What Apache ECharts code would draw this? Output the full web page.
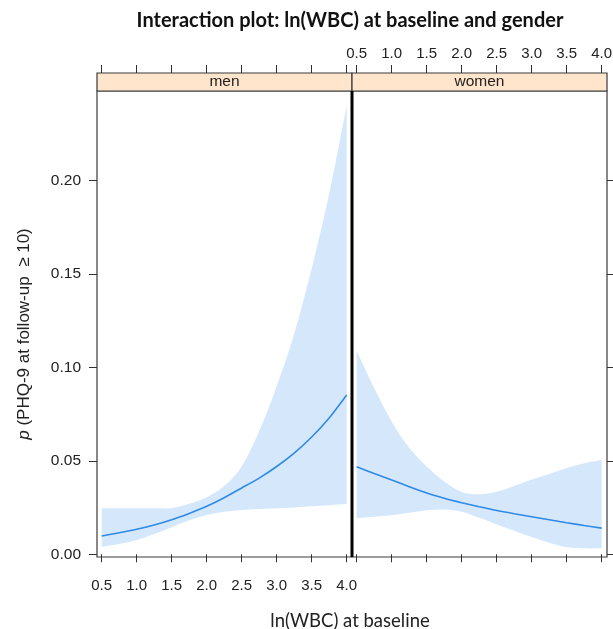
<!DOCTYPE html>
<html><head><meta charset="utf-8">
<script src="https://cdn.jsdelivr.net/npm/echarts@6/dist/echarts.min.js"></script>
<style>html,body{margin:0;padding:0;background:#fff}#c{width:613px;height:629px}</style>
</head><body><div id="c"></div>
<script>
const xValues    = [0.5, 0.75, 1.0, 1.25, 1.5, 1.75, 2.0, 2.25, 2.5, 2.75, 3.0, 3.25, 3.5, 3.75, 4.0];
const menFit     = [0.0098, 0.0115, 0.0134, 0.0157, 0.0185, 0.0219, 0.0257, 0.0303, 0.0355, 0.0408, 0.0470, 0.0542, 0.0628, 0.0730, 0.0853];
const menLower   = [0.0041, 0.0055, 0.0076, 0.0108, 0.0145, 0.0182, 0.0210, 0.0228, 0.0237, 0.0242, 0.0246, 0.0251, 0.0257, 0.0263, 0.0269];
const menUpper   = [0.0246, 0.0246, 0.0246, 0.0246, 0.0247, 0.0270, 0.0305, 0.0365, 0.0470, 0.0660, 0.0900, 0.1180, 0.1530, 0.1930, 0.2400];
const womenFit   = [0.0468, 0.0432, 0.0398, 0.0362, 0.0328, 0.0300, 0.0276, 0.0254, 0.0234, 0.0217, 0.0201, 0.0185, 0.0169, 0.0154, 0.0140];
const womenLower = [0.0193, 0.0201, 0.0209, 0.0222, 0.0236, 0.0240, 0.0228, 0.0195, 0.0160, 0.0126, 0.0092, 0.0062, 0.0038, 0.0032, 0.0032];
const womenUpper = [0.1090, 0.0890, 0.0710, 0.0570, 0.0470, 0.0390, 0.0334, 0.0322, 0.0335, 0.0366, 0.0400, 0.0430, 0.0462, 0.0487, 0.0505];
const xTicks = [0.5, 1.0, 1.5, 2.0, 2.5, 3.0, 3.5, 4.0];
const yTicks = [0.00, 0.05, 0.10, 0.15, 0.20];
const panelNames = ['men', 'women'];
const titleText = 'Interaction plot: ln(WBC) at baseline and gender';
const xAxisTitle = 'ln(WBC) at baseline';
const yAxisTitle = '{i|p} (PHQ-9 at follow-up  \u2265 10)';

const chart = echarts.init(document.getElementById('c'), null, {renderer: 'canvas'});

const AX = '#333';
const FONT = 'Liberation Sans';
const BAND = '#d5e8fb';
const LINE = '#2f8ae6';
const GL = [97, 352];
const GW = 255, GT = 91, GH = 466;
const XMIN = 0.433, XMAX = 4.076, YMIN = -0.00145, YMAX = 0.248;

function pairs(ys) { return xValues.map((x, i) => [x, ys[i]]); }

// Catmull-Rom spline through pixel points -> cubic bezier path commands
function splineCmds(p, start) {
  let d = (start ? 'M' : 'L') + p[0][0] + ',' + p[0][1];
  for (let i = 0; i < p.length - 1; i++) {
    const p0 = p[Math.max(0, i - 1)], p1 = p[i], p2 = p[i + 1], p3 = p[Math.min(p.length - 1, i + 2)];
    const c1 = [p1[0] + (p2[0] - p0[0]) / 6, p1[1] + (p2[1] - p0[1]) / 6];
    const c2 = [p2[0] - (p3[0] - p1[0]) / 6, p2[1] - (p3[1] - p1[1]) / 6];
    d += 'C' + c1[0] + ',' + c1[1] + ' ' + c2[0] + ',' + c2[1] + ' ' + p2[0] + ',' + p2[1];
  }
  return d;
}

function xAxis(grid, pos, labels) {
  return {
    type: 'value', gridIndex: grid, position: pos, min: XMIN, max: XMAX,
    offset: pos === 'top' ? 18 : 0,
    splitLine: {show: false},
    axisLine: {show: false},
    axisTick: {show: true, inside: false, length: 8, customValues: xTicks, lineStyle: {color: AX, width: 1}},
    axisLabel: {show: labels, customValues: xTicks, margin: pos === 'top' ? 12 : 21,
      fontFamily: FONT, fontSize: 15, color: '#222', formatter: v => v.toFixed(1)}
  };
}
function yAxis(grid, pos, opts) {
  return Object.assign({
    type: 'value', gridIndex: grid, position: pos, min: YMIN, max: YMAX,
    splitLine: {show: false},
    axisLine: {show: false},
    axisTick: {show: false},
    axisLabel: {show: false}
  }, opts);
}

const bandSets = [[menLower, menUpper, menFit], [womenLower, womenUpper, womenFit]];
const series = [];
bandSets.forEach(([lo, up, fit], g) => {
  series.push({
    type: 'custom', coordinateSystem: 'cartesian2d', xAxisIndex: g * 2, yAxisIndex: g,
    data: xValues.map((x, i) => [x, lo[i], up[i]]), silent: true, clip: true,
    renderItem: function (params, api) {
      if (params.dataIndex !== 0) return null;
      const upPts = xValues.map((x, i) => api.coord([x, up[i]]));
      const loPts = xValues.map((x, i) => api.coord([x, lo[i]])).reverse();
      const d = splineCmds(upPts, true) + splineCmds(loPts, false) + 'Z';
      return {type: 'path', shape: {pathData: d}, style: {fill: BAND, stroke: null}};
    }
  });
  series.push({
    type: 'line', xAxisIndex: g * 2, yAxisIndex: g, data: pairs(fit),
    symbol: 'none', smooth: 0.25, lineStyle: {color: LINE, width: 1.6}, silent: true, z: 5
  });
});

const option = {
  backgroundColor: '#fff',
  animation: false,
  title: [
    {text: titleText, left: 345, top: 6, textAlign: 'center',
     textStyle: {fontFamily: 'Lato', fontWeight: 'bold', fontSize: 20, color: '#111'}},
    {text: xAxisTitle, left: 345, top: 607, textAlign: 'center',
     textStyle: {fontFamily: 'Lato', fontWeight: 'normal', fontSize: 18.5, color: '#222'}}
  ],
  grid: GL.map(l => ({left: l, top: GT, width: GW, height: GH, show: true,
    borderColor: '#3a3a3a', borderWidth: 1.2, backgroundColor: 'transparent', outerBoundsMode: 'none', containLabel: false})),
  xAxis: [
    xAxis(0, 'bottom', true), xAxis(0, 'top', false),
    xAxis(1, 'bottom', false), xAxis(1, 'top', true)
  ],
  yAxis: [
    yAxis(0, 'left', {
      axisTick: {show: true, length: 8, customValues: yTicks, lineStyle: {color: AX}},
      axisLabel: {show: true, customValues: yTicks, margin: 16, fontFamily: FONT, fontSize: 15.5, color: '#222',
        formatter: v => v.toFixed(2)},
      name: yAxisTitle, nameLocation: 'middle', nameGap: 64, nameRotate: 90,
      nameTextStyle: {fontFamily: FONT, fontSize: 17, color: '#222', padding: [0, 20, 0, 0],
        rich: {i: {fontFamily: FONT, fontSize: 17, fontStyle: 'italic', color: '#222'}}}
    }),
    yAxis(1, 'right', {axisTick: {show: true, length: 8, customValues: yTicks, lineStyle: {color: AX}}})
  ],
  graphic: panelNames.flatMap((name, i) => [
    {type: 'rect', shape: {x: GL[i], y: 73, width: GW, height: 18},
     style: {fill: '#ffe5cc', stroke: '#3a3a3a', lineWidth: 1.2}, z: 10},
    {type: 'text', x: GL[i] + GW / 2, y: 82,
     style: {text: name, fontFamily: FONT, fontSize: 15.5, fill: '#222', align: 'center', verticalAlign: 'middle'}, z: 11}
  ]).concat([
    {type: 'line', shape: {x1: GL[1], y1: GT, x2: GL[1], y2: GT + GH},
     style: {stroke: '#000', lineWidth: 3}, z: 12}
  ]),
  series: series
};
chart.setOption(option);
</script>
</body></html>
